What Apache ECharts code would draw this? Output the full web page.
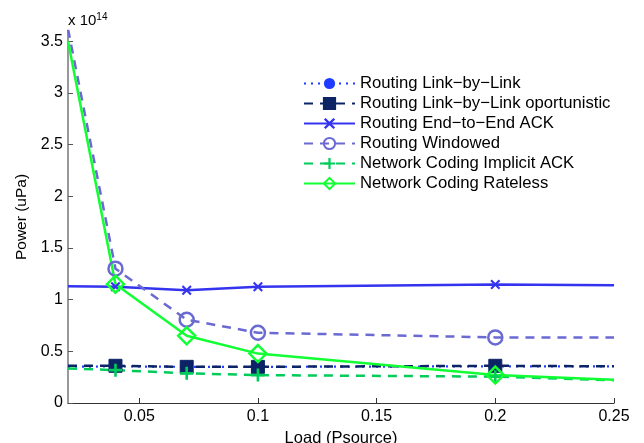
<!DOCTYPE html>
<html><head><meta charset="utf-8">
<script src="https://cdn.jsdelivr.net/npm/echarts@6/dist/echarts.min.js"></script>
<style>html,body{margin:0;padding:0;background:#fff}#c{width:644px;height:443px}</style>
</head><body><div id="c"></div>
<script>
var loads = [0.02, 0.04, 0.07, 0.1, 0.2, 0.25];
var markerIdx = [1, 2, 3, 4];
var seriesNames = ['Routing Link\u2212by\u2212Link','Routing Link\u2212by\u2212Link oportunistic','Routing End\u2212to\u2212End ACK','Routing Windowed','Network Coding Implicit ACK','Network Coding Rateless'];
var linkByLink   = [0.35, 0.355, 0.35, 0.35, 0.355, 0.355];
var opportunistic= [0.36, 0.36, 0.35, 0.35, 0.36, 0.355];
var endToEnd     = [1.13, 1.125, 1.09, 1.125, 1.147, 1.14];
var windowed     = [3.62, 1.30, 0.806, 0.68, 0.635, 0.635];
var implicitAck  = [0.335, 0.318, 0.287, 0.27, 0.255, 0.22];
var rateless     = [3.5, 1.15, 0.65, 0.478, 0.27, 0.225];
var xTicks = [0.05, 0.1, 0.15, 0.2, 0.25];
var yTicks = [0, 0.5, 1, 1.5, 2, 2.5, 3, 3.5];

var PLUS = 'path://M4,0H6V4H10V6H6V10H4V6H0V4H4Z';
var XMARK = 'path://M0,1.5L1.5,0L5,3.5L8.5,0L10,1.5L6.5,5L10,8.5L8.5,10L5,6.5L1.5,10L0,8.5L3.5,5Z';

function mk(vals){
  return loads.map(function(x,i){
    var d = {value:[x, vals[i]]};
    if (markerIdx.indexOf(i) < 0) d.symbol = 'none';
    return d;
  });
}
function S(name, vals, color, ltype, width, symbol, size, itemStyle){
  return {name:name, type:'line', data:mk(vals), symbol:symbol, symbolSize:size,
    showAllSymbol:true, clip:true, z:2,
    lineStyle:{color:color, type:ltype, width:width},
    itemStyle:itemStyle, emphasis:{disabled:true}, animation:false};
}
var series = [
  S(seriesNames[0], linkByLink, '#1f3bff', [2,5], 2.2, 'circle', 11, {color:'#1f3bff'}),
  S(seriesNames[1], opportunistic, '#0c2466', [9,7], 2.5, 'rect', 13, {color:'#0c2466', borderColor:'#0c2466', borderWidth:1}),
  S(seriesNames[2], endToEnd, '#3434f0', 'solid', 2.5, XMARK, 10, {color:'#3434f0'}),
  S(seriesNames[3], windowed, '#6a6ad2', [9,7], 2.5, 'circle', 14, {color:'rgba(0,0,0,0)', borderColor:'#6a6ad2', borderWidth:2.5}),
  S(seriesNames[4], implicitAck, '#00cc5a', [9,7], 2.5, PLUS, 13, {color:'#00cc5a'}),
  S(seriesNames[5], rateless, '#11ff33', 'solid', 2.5, 'diamond', 17, {color:'rgba(0,0,0,0)', borderColor:'#11ff33', borderWidth:2.5})
];

var chart = echarts.init(document.getElementById('c'), null, {renderer:'canvas'});
var FONT = 'Liberation Sans';
chart.setOption({
  backgroundColor:'#fff',
  animation:false,
  textStyle:{fontFamily:FONT},
  grid:{left:68, right:30, top:31, bottom:40, containLabel:false, outerBoundsMode:'none'},
  legend:{
    orient:'vertical', left:298, top:70, itemWidth:51, itemHeight:14, itemGap:3,
    textStyle:{fontFamily:FONT, fontSize:16.7, color:'#000'},
    data:seriesNames, selectedMode:false
  },
  xAxis:{type:'value', min:0.02, max:0.25,
    name:'Load (Psource)', nameLocation:'middle', nameGap:23,
    nameTextStyle:{fontFamily:FONT, fontSize:16.5, color:'#000'},
    axisLine:{show:true, onZero:false, lineStyle:{color:'#333', width:1.2}},
    axisTick:{show:true, inside:true, length:5, customValues:xTicks, lineStyle:{color:'#333'}},
    axisLabel:{customValues:xTicks, fontSize:16, color:'#000', margin:6,
      formatter:function(v){return String(+v.toFixed(2));}},
    splitLine:{show:false}
  },
  yAxis:{type:'value', min:0, max:3.6,
    name:'Power (uPa)', nameLocation:'middle', nameGap:37, nameRotate:90,
    nameTextStyle:{fontFamily:FONT, fontSize:15.5, color:'#000'},
    axisLine:{show:true, onZero:false, lineStyle:{color:'#777', width:1.5}},
    axisTick:{show:true, inside:true, length:5, customValues:yTicks, lineStyle:{color:'#555'}},
    axisLabel:{customValues:yTicks, fontSize:16, color:'#000', margin:5,
      formatter:function(v){return String(+v.toFixed(1));}},
    splitLine:{show:false}
  },
  graphic:[{type:'text', left:68, top:12,
    style:{rich:{a:{fontFamily:FONT, fontSize:15, fill:'#000'}, b:{fontFamily:FONT, fontSize:10, fill:'#000', verticalAlign:'top', padding:[0,0,8,0]}},
      text:'{a|x 10}{b|14}'}}],
  series:series
});
</script></body></html>
